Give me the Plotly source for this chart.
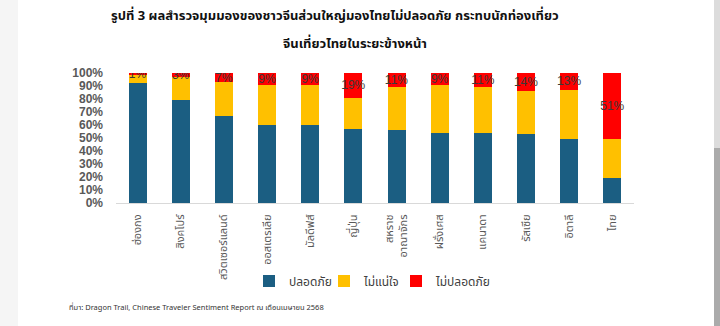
import plotly.graph_objects as go

# ---- data ----
categories = ["ฮ่องกง", "สิงคโปร์", "สวิตเซอร์แลนด์", "ออสเตรเลีย", "มัลดีฟส์", "ญี่ปุ่น",
              "สหราช<br>อาณาจักร", "ฝรั่งเศส", "แคนาดา", "รัสเซีย", "อิตาลี", "ไทย"]
safe = [92, 79, 67, 60, 60, 57, 56, 54, 54, 53, 49, 19]
unsure = [7, 18, 26, 31, 31, 24, 33, 37, 35, 33, 38, 30]
unsafe = [1, 3, 7, 9, 9, 19, 11, 9, 11, 14, 13, 51]
series_names = ["ปลอดภัย", "ไม่แน่ใจ", "ไม่ปลอดภัย"]
y_ticks = list(range(0, 101, 10))
y_tick_labels = [f"{v}%" for v in y_ticks]

title1 = "รูปที่ 3 ผลสำรวจมุมมองของชาวจีนส่วนใหญ่มองไทยไม่ปลอดภัย กระทบนักท่องเที่ยว"
title2 = "จีนเที่ยวไทยในระยะข้างหน้า"
source = "ที่มา: Dragon Trail, Chinese Traveler Sentiment Report ณ เดือนเมษายน 2568"

# ---- layout geometry ----
W, H = 720, 326
ML, MR, MT, MB = 116, 86, 73, 123
PW, PH = W - ML - MR, H - MT - MB

def px_x(px):
    return (px - ML) / PW

def px_y(py):
    return (H - MB - py) / PH

FONT = "Noto Sans Thai, Noto Sans, Liberation Sans, sans-serif"
BLUE, YELLOW, RED = "#1b5e82", "#ffc000", "#ff0000"

fig = go.Figure()
fig.add_trace(go.Bar(x=categories, y=safe, name=series_names[0], marker_color=BLUE,
                     marker_line_width=0, legend="legend"))
fig.add_trace(go.Bar(x=categories, y=unsure, name=series_names[1], marker_color=YELLOW,
                     marker_line_width=0, legend="legend2"))
fig.add_trace(go.Bar(x=categories, y=unsafe, name=series_names[2], marker_color=RED,
                     marker_line_width=0, legend="legend3",
                     text=[f"{v}%" for v in unsafe], textposition="inside",
                     insidetextanchor="middle", constraintext="none", textangle=0,
                     textfont=dict(family="Liberation Sans, sans-serif", size=12, color="#3a3a3a")))

def legend_at(px):
    return dict(orientation="h", x=px_x(px), xanchor="left", y=px_y(281), yanchor="middle",
                font=dict(family=FONT, size=12, color="#404040"), itemwidth=30,
                bgcolor="rgba(0,0,0,0)")

fig.update_layout(
    width=W, height=H,
    barmode="stack", bargap=0.58,
    margin=dict(l=ML, r=MR, t=MT, b=MB, pad=0),
    paper_bgcolor="white", plot_bgcolor="white",
    showlegend=True,
    legend=legend_at(249), legend2=legend_at(324), legend3=legend_at(396),
    font=dict(family=FONT),
)
fig.update_xaxes(tickangle=-90, tickfont=dict(family=FONT, size=11, color="#595959"),
                 showline=True, linecolor="#d9d9d9", linewidth=1, ticks="",
                 ticklabelstandoff=6,
                 automargin=False, showgrid=False)
fig.update_yaxes(range=[0, 100], tickmode="array", tickvals=y_ticks, ticktext=y_tick_labels,
                 showgrid=False, zeroline=False, showline=False, ticks="", automargin=False,
                 ticklabelstandoff=12,
                 tickfont=dict(family="Liberation Sans, sans-serif", size=12, color="#595959",
                               weight="bold"))

fig.add_annotation(text=f"<b>{title1}</b>", xref="paper", yref="paper",
                   x=px_x(335), y=px_y(16), xanchor="center", yanchor="middle",
                   showarrow=False, font=dict(family=FONT, size=13, color="#111111"))
fig.add_annotation(text=f"<b>{title2}</b>", xref="paper", yref="paper",
                   x=px_x(355), y=px_y(44), xanchor="center", yanchor="middle",
                   showarrow=False, font=dict(family=FONT, size=13, color="#111111"))
fig.add_annotation(text=source, xref="paper", yref="paper",
                   x=px_x(67), y=px_y(307), xanchor="left", yanchor="middle",
                   showarrow=False, font=dict(family=FONT, size=7.5, color="#333333"))

# screenshot edge strips
fig.add_shape(type="rect", xref="paper", yref="paper", x0=px_x(0), x1=px_x(18),
              y0=px_y(H), y1=px_y(0), fillcolor="#f5f5f5", line_width=0, layer="below")
fig.add_shape(type="rect", xref="paper", yref="paper", x0=px_x(714), x1=px_x(720),
              y0=px_y(148), y1=px_y(0), fillcolor="#dcdcdc", line_width=0, layer="below")
fig.add_shape(type="rect", xref="paper", yref="paper", x0=px_x(714), x1=px_x(720),
              y0=px_y(H), y1=px_y(148), fillcolor="#ababab", line_width=0, layer="below")

fig.write_html("out.html")
